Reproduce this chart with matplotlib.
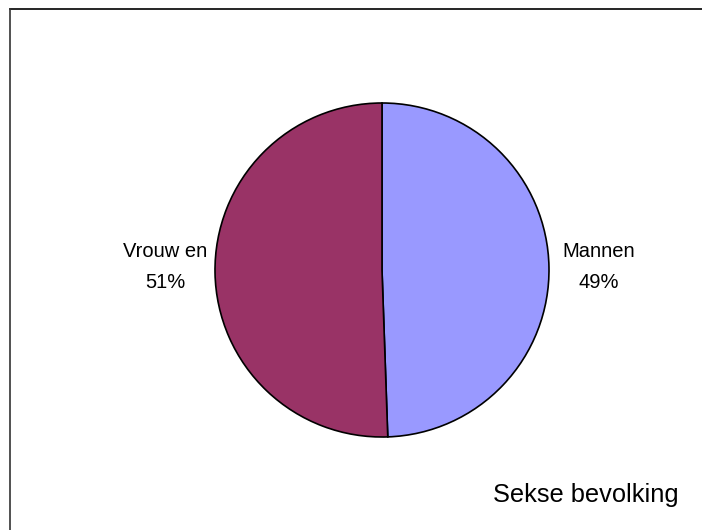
import numpy as np
import matplotlib
matplotlib.use("Agg")
import matplotlib.pyplot as plt
from matplotlib.lines import Line2D

# Data
categories = ["Mannen", "Vrouw en"]
shares = [49.45, 50.55]          # slice sizes
labels_pct = [49, 51]            # percentages as printed on the chart
colors = ["#9999FF", "#993366"]
title = "Sekse bevolking"

plt.rcParams['font.family'] = ['Liberation Sans', 'DejaVu Sans']

W, H = 702, 530
fig = plt.figure(figsize=(W / 100, H / 100), dpi=100)
ax = fig.add_axes([0, 0, 1, 1])

cx, cy, r = 382, H - 270, 167
wedges, _ = ax.pie(shares, colors=colors, startangle=90,
                   counterclock=False, center=(cx, cy), radius=r,
                   wedgeprops=dict(edgecolor='black', linewidth=1.2))

# Labels next to each slice
for w, name, pct in zip(wedges, categories, labels_pct):
    mid = np.deg2rad((w.theta1 + w.theta2) / 2)
    x = cx + 1.3 * r * np.cos(mid)
    ax.text(x, cy + 3, f"{name}\n{pct}%", ha='center', va='center',
            fontsize=14.5, linespacing=1.85, color='black')

ax.text(493, H - 502, title, ha='left', va='baseline', fontsize=18.3)

ax.set_xlim(0, W)
ax.set_ylim(0, H)
ax.set_aspect('equal')
ax.axis('off')

# Chart frame (right and bottom fall outside the image)
fig.add_artist(Line2D([9.5 / W, 1.0], [1 - 8.5 / H, 1 - 8.5 / H],
                      transform=fig.transFigure, color='black', lw=1.2))
fig.add_artist(Line2D([9.5 / W, 9.5 / W], [0, 1 - 8.5 / H],
                      transform=fig.transFigure, color='#333333', lw=1.2))

fig.savefig("out.png", dpi=100)
